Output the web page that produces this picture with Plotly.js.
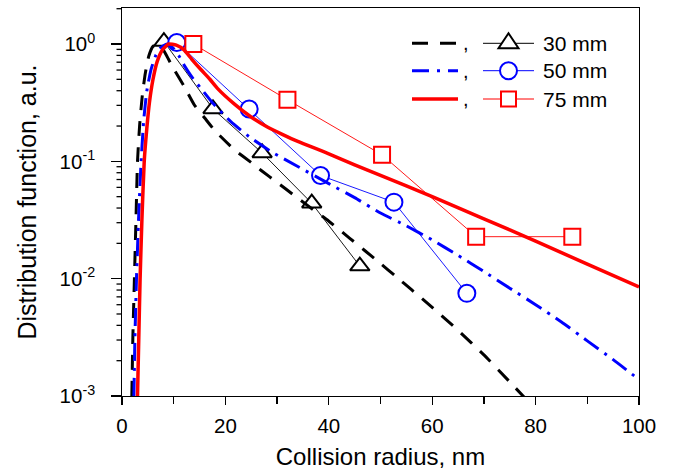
<!DOCTYPE html>
<html><head><meta charset="utf-8">
<script src="https://cdn.plot.ly/plotly-3.0.1.min.js"></script>
<style>html,body{margin:0;padding:0;background:#fff;} #chart{width:684px;height:473px;}</style>
</head><body><div id="chart"></div>
<script>
// ---- data ----
const seriesNames = ['30 mm', '50 mm', '75 mm'];

// model distribution curves
const curve30X = [1.9, 2.1, 2.4, 2.7, 3.0, 3.4, 3.9, 4.5, 5.2, 6.0, 7.0, 8.0, 9.0, 10.1, 12, 14, 16, 18, 21.7, 25, 27, 30, 33, 36, 40, 44, 47, 50, 53, 56, 60, 65, 70, 75, 78];
const curve30Y = [0.001, 0.00316, 0.01, 0.0316, 0.1, 0.2, 0.355, 0.562, 0.794, 0.955, 1.0, 0.891, 0.741, 0.603, 0.437, 0.302, 0.234, 0.182, 0.126, 0.0977, 0.0832, 0.0661, 0.0525, 0.0417, 0.0309, 0.0222, 0.0173, 0.01346, 0.01042, 0.00805, 0.00569, 0.00363, 0.00224, 0.00132, 0.000955];

const curve50X = [2.3, 2.5, 2.8, 3.2, 3.7, 4.2, 4.8, 5.6, 6.5, 7.5, 8.7, 10, 11, 12, 13.5, 15.3, 17.5, 21, 24.6, 29, 34, 40, 45, 50, 55, 60, 65, 70, 75, 80, 85, 90, 95, 100];
const curve50Y = [0.001, 0.00316, 0.01, 0.0316, 0.1, 0.224, 0.398, 0.603, 0.794, 0.933, 1.0, 0.912, 0.794, 0.661, 0.525, 0.417, 0.316, 0.219, 0.162, 0.120, 0.0904, 0.0646, 0.049, 0.0363, 0.0282, 0.0214, 0.0158, 0.0115, 0.0083, 0.0060, 0.00427, 0.00295, 0.00204, 0.00138];

const curve75X = [3.0, 3.25, 3.5, 3.85, 4.3, 4.8, 5.3, 6.0, 6.8, 7.8, 9.0, 10.5, 12, 13.5, 15.3, 17, 18.5, 21.7, 24.9, 28.2, 31, 34, 40, 45, 50, 55, 60, 70, 80, 90, 100];
const curve75Y = [0.001, 0.00316, 0.01, 0.0316, 0.1, 0.191, 0.316, 0.501, 0.708, 0.891, 1.0, 0.977, 0.891, 0.741, 0.603, 0.501, 0.417, 0.309, 0.240, 0.195, 0.170, 0.148, 0.116, 0.0933, 0.0759, 0.0617, 0.0501, 0.0324, 0.0209, 0.0133, 0.00851];

// measured points
const exp30X = [8.1, 17.6, 27.1, 36.7, 46.0];
const exp30Y = [1.05, 0.28, 0.118, 0.044, 0.0128];
const exp50X = [10.6, 24.6, 38.4, 52.6, 66.7];
const exp50Y = [1.03, 0.279, 0.0757, 0.0449, 0.0075];
const exp75X = [13.8, 32.0, 50.3, 68.5, 87.1];
const exp75Y = [1.0, 0.335, 0.1136, 0.0228, 0.0228];

const yTickVals = [0.001, 0.01, 0.1, 1];
const yTickText = ['10<sup>-3</sup>', '10<sup>-2</sup>', '10<sup>-1</sup>', '10<sup>0</sup>'];
const yMinorVals = [0.002, 0.003, 0.004, 0.005, 0.006, 0.007, 0.008, 0.009,
                    0.02, 0.03, 0.04, 0.05, 0.06, 0.07, 0.08, 0.09,
                    0.2, 0.3, 0.4, 0.5, 0.6, 0.7, 0.8, 0.9, 2];

// ---- styling ----
const colors = ['#000000', '#0000ff', '#ff0000'];
const FONT = 'Liberation Sans, Arial, sans-serif';
const curveDash = ['15px,11px', '18px,7px,3px,7px', 'solid'];
const legendDash = ['16px,12px', '17px,8px,3px,8px', 'solid'];
const curveWidth = [3, 3, 3.5];
const symbols = ['triangle-up', 'circle', 'square'];
const symSize = [17, 17, 16];
const Y_RANGE = [-3, 0.307];

const expX = [exp30X, exp50X, exp75X];
const expY = [exp30Y, exp50Y, exp75Y];
const curX = [curve30X, curve50X, curve75X];
const curY = [curve30Y, curve50Y, curve75Y];

const traces = [];
for (let i = 0; i < 3; i++) {
  traces.push({
    x: expX[i], y: expY[i], type: 'scatter', mode: 'lines+markers',
    name: seriesNames[i] + ' (exp.)', showlegend: false, hoverinfo: 'x+y',
    line: {color: colors[i], width: 0.9},
    marker: {symbol: symbols[i], size: symSize[i], color: 'rgba(255,255,255,1)',
             line: {color: colors[i], width: 2}}
  });
}
for (let i = 0; i < 3; i++) {
  traces.push({
    x: curX[i], y: curY[i], type: 'scatter', mode: 'lines',
    name: seriesNames[i], showlegend: false, hoverinfo: 'x+y',
    line: {color: colors[i], width: curveWidth[i], dash: curveDash[i], shape: 'spline', smoothing: 0.5}
  });
}

// ---- custom Origin-style legend and minor y ticks (layout decoration) ----
const L = 122, R = 639, T = 8, B = 396;
const px = v => (v - L) / (R - L);
const py = v => (B - v) / (B - T);
const rowsY = [43.3, 70.7, 99];
const shapes = [], annotations = [];
yMinorVals.forEach(v => {
  const yp = (Math.log10(v) - Y_RANGE[0]) / (Y_RANGE[1] - Y_RANGE[0]);
  shapes.push({type: 'line', xref: 'paper', yref: 'paper', x0: px(L - 5.5), x1: px(L), y0: yp, y1: yp,
               line: {color: '#000', width: 1.3}});
});
for (let i = 0; i < 3; i++) {
  const y = rowsY[i];
  shapes.push({type: 'line', xref: 'paper', yref: 'paper', x0: px(412), x1: px(458), y0: py(y), y1: py(y),
               line: {color: colors[i], width: curveWidth[i], dash: legendDash[i]}});
  shapes.push({type: 'line', xref: 'paper', yref: 'paper', x0: px(483), x1: px(534), y0: py(y), y1: py(y),
               line: {color: colors[i], width: 1}});
  const cx = 508.5;
  if (i === 0) {
    const p = `M${px(cx - 10)},${py(y + 5)} L${px(cx + 10)},${py(y + 5)} L${px(cx)},${py(y - 10)} Z`;
    shapes.push({type: 'path', xref: 'paper', yref: 'paper', path: p, fillcolor: 'white', line: {color: colors[i], width: 2}});
  } else if (i === 1) {
    shapes.push({type: 'circle', xref: 'paper', yref: 'paper', x0: px(cx - 8.5), x1: px(cx + 8.5), y0: py(y + 8.5), y1: py(y - 8.5),
                 fillcolor: 'white', line: {color: colors[i], width: 2}});
  } else {
    shapes.push({type: 'rect', xref: 'paper', yref: 'paper', x0: px(cx - 7.5), x1: px(cx + 7.5), y0: py(y + 7.5), y1: py(y - 7.5),
                 fillcolor: 'white', line: {color: colors[i], width: 2}});
  }
  annotations.push({xref: 'paper', yref: 'paper', x: px(466), y: py(y), text: ',', showarrow: false,
                    xanchor: 'center', yanchor: 'middle', font: {family: FONT, size: 20, color: '#000'}});
  annotations.push({xref: 'paper', yref: 'paper', x: px(541), y: py(y), text: seriesNames[i], showarrow: false,
                    xanchor: 'left', yanchor: 'middle', font: {family: FONT, size: 21, color: '#000'}});
}

const axisCommon = {
  showline: true, linecolor: '#000', linewidth: 1.3, mirror: true,
  showgrid: false, zeroline: false, ticks: 'outside', tickcolor: '#000', tickwidth: 1.3,
  tickfont: {family: FONT, size: 20.5, color: '#000'}
};

const layout = {
  width: 684, height: 473,
  margin: {l: L, r: 684 - R, t: T, b: 473 - B},
  paper_bgcolor: '#fff', plot_bgcolor: '#fff',
  showlegend: false,
  xaxis: Object.assign({}, axisCommon, {
    range: [0, 100], tickmode: 'linear', tick0: 0, dtick: 20, ticklen: 8, ticklabelstandoff: 3,
    minor: {tickmode: 'linear', tick0: 0, dtick: 10, ticks: 'outside', ticklen: 7, tickcolor: '#000', tickwidth: 1.3, showgrid: false},
    title: {text: 'Collision radius, nm', font: {family: FONT, size: 24, color: '#000'}, standoff: 12}
  }),
  yaxis: Object.assign({}, axisCommon, {
    type: 'log', range: Y_RANGE, tickmode: 'array', tickvals: yTickVals,
    ticktext: yTickText.map(t => t + '\u00a0\u00a0'), ticklen: 10,
    title: {text: 'Distribution function, a.u.', font: {family: FONT, size: 25, color: '#000'}, standoff: 16}
  }),
  shapes: shapes,
  annotations: annotations
};

Plotly.newPlot('chart', traces, layout, {displayModeBar: false, staticPlot: true});
</script>
</body></html>
